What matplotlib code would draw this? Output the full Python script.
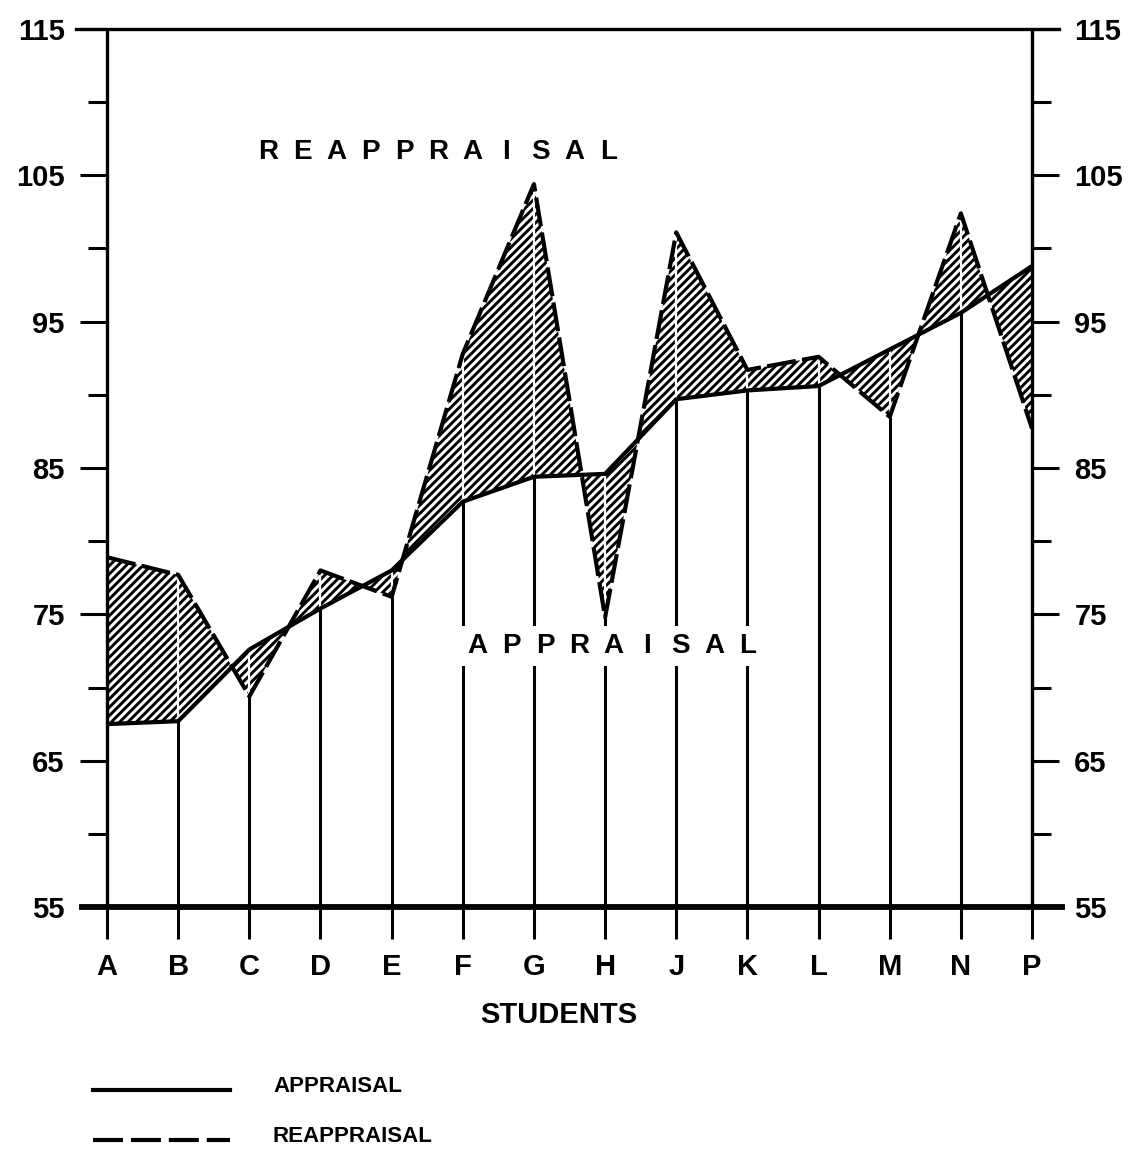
import numpy as np
import matplotlib
matplotlib.use('Agg')
import matplotlib.pyplot as plt
from matplotlib.lines import Line2D

# values
students = ['A', 'B', 'C', 'D', 'E', 'F', 'G', 'H', 'J', 'K', 'L', 'M', 'N', 'P']
appraisal = [67.5, 67.7, 72.6, 75.4, 78.0, 82.7, 84.4, 84.6, 89.7, 90.3, 90.6, 93.1, 95.6, 98.8]
reappraisal = [78.9, 77.7, 69.4, 78.0, 76.2, 92.8, 104.4, 74.8, 101.1, 91.7, 92.6, 88.5, 102.4, 87.7]
major_ticks = [55, 65, 75, 85, 95, 105, 115]
minor_ticks = [60, 70, 80, 90, 100, 110]

plt.rcParams['font.family'] = ['Liberation Sans', 'DejaVu Sans']
plt.rcParams['font.weight'] = 'bold'
plt.rcParams['hatch.linewidth'] = 2.1

fig = plt.figure(figsize=(11.28, 11.54), dpi=100)
ax = fig.add_axes([0.0949, 0.2140, 0.8200, 0.7609])

x = np.arange(len(students))
app = np.array(appraisal)
reapp = np.array(reappraisal)
ax.set_xlim(0, len(students) - 1)
ax.set_ylim(major_ticks[0], major_ticks[-1])
for s in ax.spines.values():
    s.set_visible(False)

# shaded difference
ax.fill_between(x, app, reapp, interpolate=True, facecolor='white',
                edgecolor='black', hatch='////', linewidth=0, zorder=1)

# student verticals: black below the lower value, white inside the shading
lo = np.minimum(app, reapp)
hi = np.maximum(app, reapp)
ax.vlines(x[1:-1], 55, lo[1:-1], color='black', lw=2.2, zorder=2)
ax.vlines(x[1:-1], lo[1:-1], hi[1:-1], color='white', lw=1.6, zorder=2)

ax.plot(x, app, color='black', lw=3, zorder=3)
ax.plot(x, reapp, color='black', lw=3, ls=(0, (7, 1.5)), zorder=3)

# frame
ax.vlines([x[0], x[-1]], 55, 115, color='black', lw=2.4, zorder=4, clip_on=False)
ax.axhline(115, xmin=-0.034, xmax=1.029, color='black', lw=2.4, clip_on=False, zorder=4)
ax.axhline(55, xmin=-0.027, xmax=1.032, color='black', lw=4.2, clip_on=False, zorder=4)

ax.set_yticks(major_ticks)
ax.set_yticks(minor_ticks, minor=True)
ax.tick_params(axis='y', which='both', left=True, right=True, labelleft=True,
               labelright=True, direction='out', width=2.2)
ax.tick_params(axis='y', which='major', length=19.5, pad=11, labelsize=21)
ax.tick_params(axis='y', which='minor', length=13.5)

ax.set_xticks(x, students)
ax.tick_params(axis='x', direction='out', length=23, width=2.2, pad=10, labelsize=21)

fig.text(559 / 1128, 1 - 1015 / 1154, 'STUDENTS', ha='center', va='center', fontsize=21)

# letter-spaced labels inside the plot
for i, ch in enumerate('REAPPRAISAL'):
    ax.text(2.263 + i * 0.478, 106.6, ch, ha='center', va='center', fontsize=20, zorder=5)
for i, ch in enumerate('APPRAISAL'):
    ax.text(5.21 + i * 0.475, 72.84, ch, ha='center', va='center', fontsize=20, zorder=5,
            bbox=dict(facecolor='white', edgecolor='none', pad=5))

# key
fig.add_artist(Line2D([0.0824, 0.2039], [0.0554, 0.0554], transform=fig.transFigure,
                      color='black', lw=3))
fig.add_artist(Line2D([0.0824, 0.2039], [0.0121, 0.0121], transform=fig.transFigure,
                      color='black', lw=3, ls=(0, (7.2, 1.9))))
fig.text(0.242, 0.0589, 'APPRAISAL', ha='left', va='center', fontsize=16)
fig.text(0.242, 0.0150, 'REAPPRAISAL', ha='left', va='center', fontsize=16)

fig.savefig('out.png', dpi=100)
